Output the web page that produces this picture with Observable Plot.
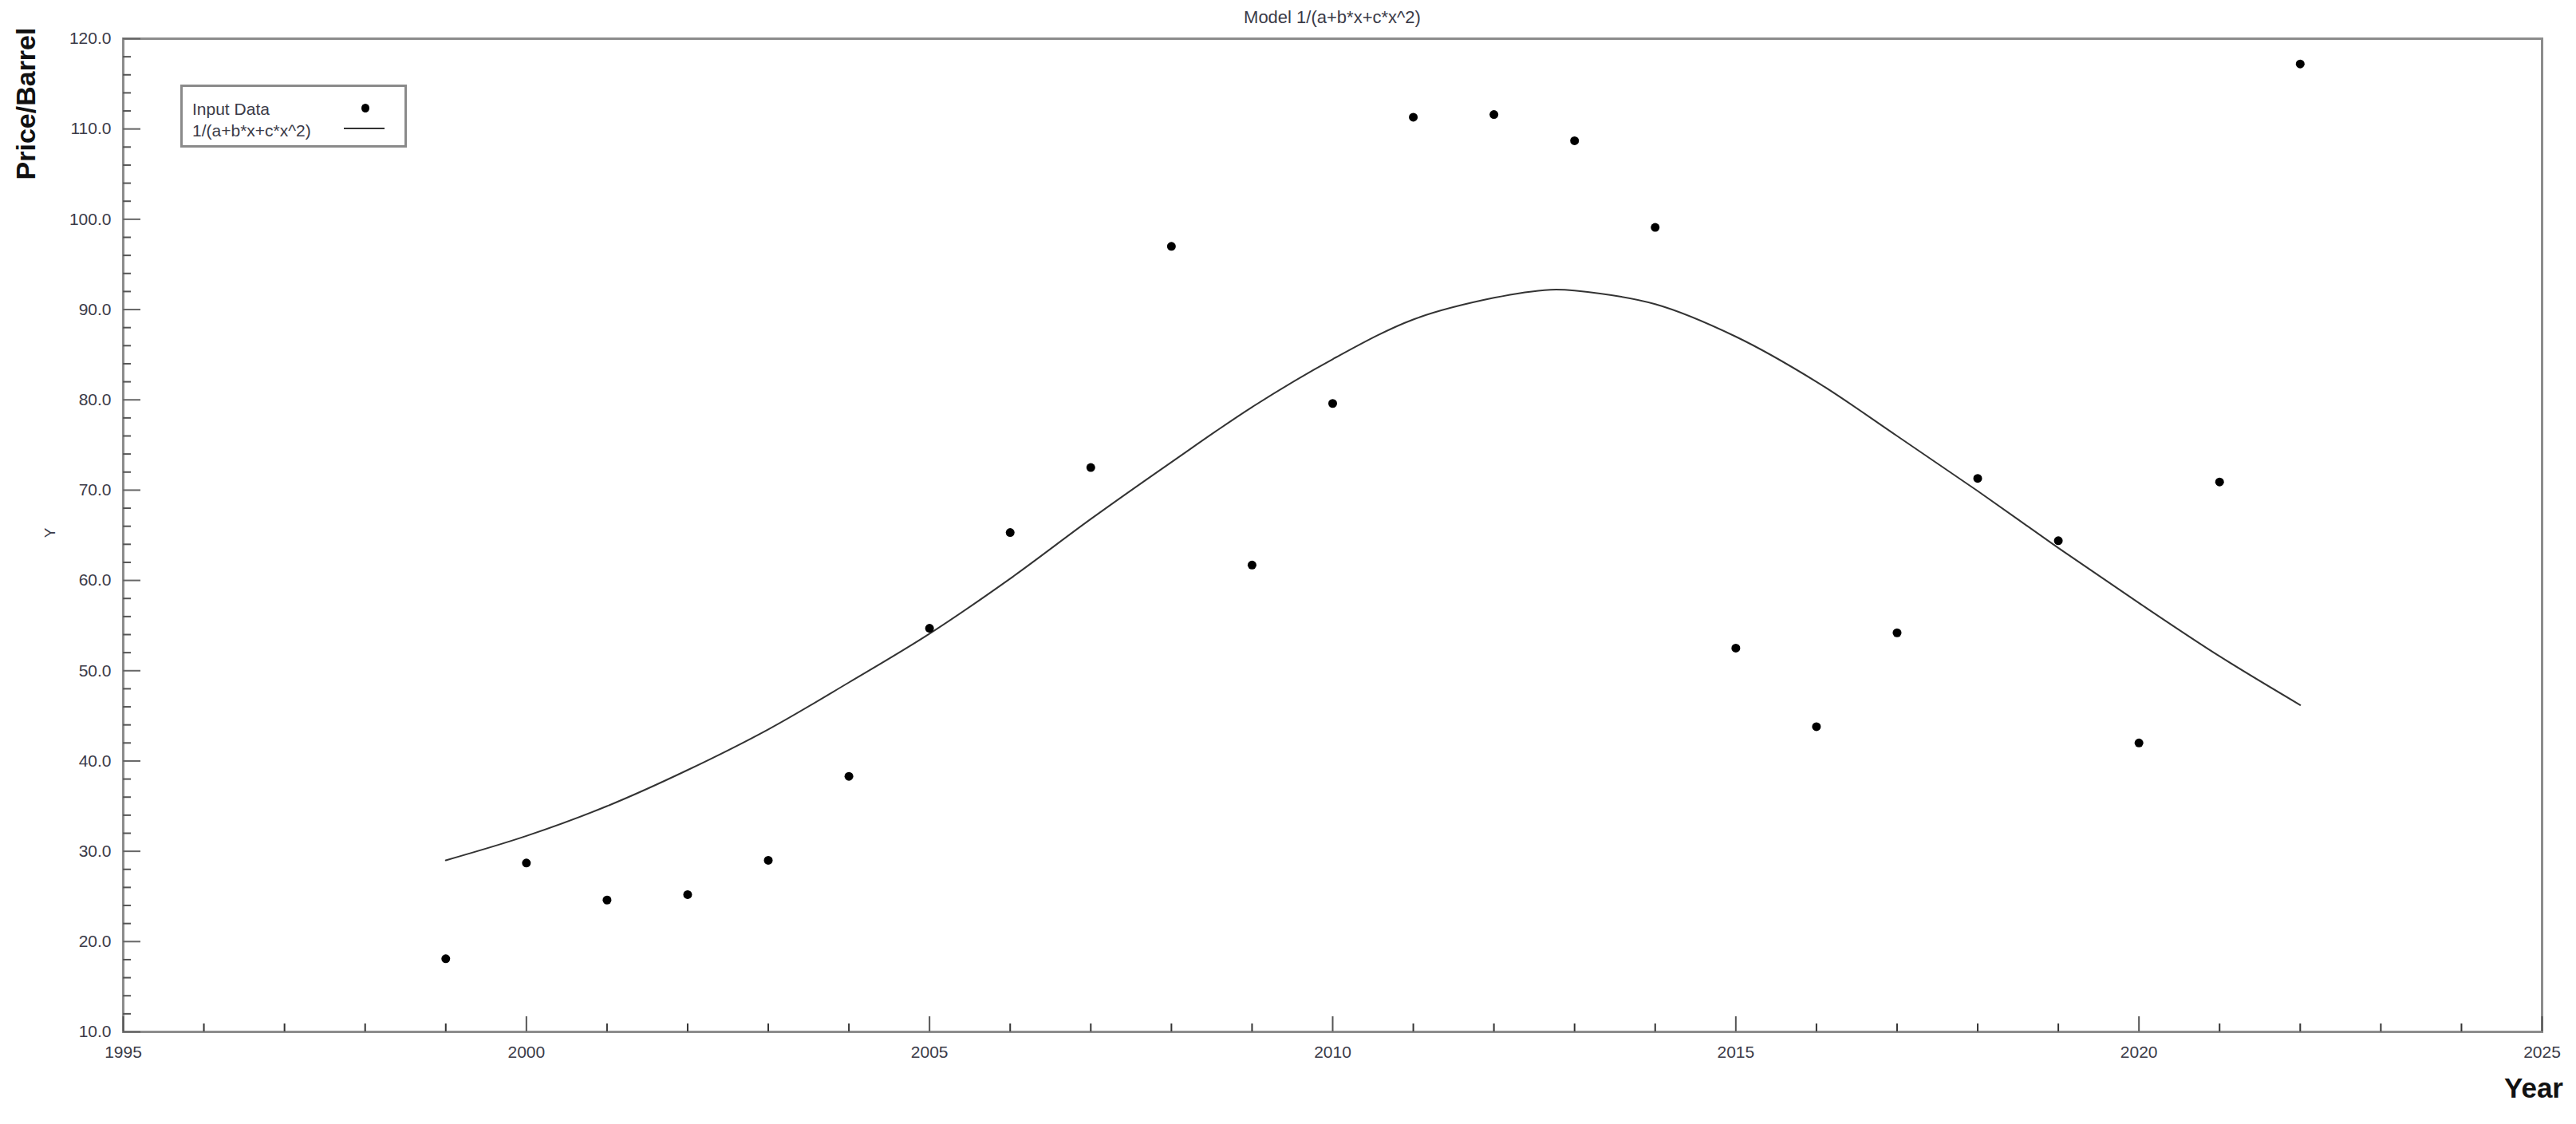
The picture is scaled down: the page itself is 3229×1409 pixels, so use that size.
<!DOCTYPE html>
<html>
<head>
<meta charset="utf-8">
<script src="https://cdn.jsdelivr.net/npm/d3@7"></script>
<script src="https://cdn.jsdelivr.net/npm/@observablehq/plot@0.6"></script>
<style>
  body { margin: 0; background: #fff; }
  #wrap { position: relative; width: 3229px; height: 1409px; font-family: "Liberation Sans", Arial, sans-serif; color: #3b3b48; overflow: hidden; }
  .abs { position: absolute; white-space: nowrap; line-height: 1; }
  #title { left: 1670px; top: 11px; transform: translateX(-50%); font-size: 22px; }
  #ylab { left: 32px; top: 130px; transform: translate(-50%, -50%) rotate(-90deg); font-size: 34px; font-weight: bold; color: #111; }
  #ysmall { left: 62px; top: 668px; transform: translate(-50%, -50%) rotate(-90deg); font-size: 19px; }
  #xlab { left: 3176px; top: 1363px; transform: translate(-50%, -50%); font-size: 35px; font-weight: bold; color: #111; }
  #legend { left: 226px; top: 106px; width: 284px; height: 79px; box-sizing: border-box; border: 3px solid #8a8a8a; background: #fff; }
  .lt { position: absolute; left: 12px; font-size: 21px; line-height: 1; }
  #ldot { position: absolute; left: 224px; top: 21px; width: 10px; height: 11px; border-radius: 50%; background: #000; }
  #lline { position: absolute; left: 202px; top: 51px; width: 51px; height: 2px; background: #333; }
</style>
</head>
<body>
<div id="wrap">
  <div id="title" class="abs">Model 1/(a+b*x+c*x^2)</div>
  <div id="ylab" class="abs">Price/Barrel</div>
  <div id="ysmall" class="abs">Y</div>
  <div id="xlab" class="abs">Year</div>
  <div id="legend" class="abs">
    <div class="lt" style="top:17px">Input Data</div>
    <div id="ldot"></div>
    <div class="lt" style="top:44px">1/(a+b*x+c*x^2)</div>
    <div id="lline"></div>
  </div>
</div>
<script>
// ---- data ----
const years = [1999, 2000, 2001, 2002, 2003, 2004, 2005, 2006, 2007, 2008, 2009, 2010,
               2011, 2012, 2013, 2014, 2015, 2016, 2017, 2018, 2019, 2020, 2021, 2022];
const prices = [18.1, 28.7, 24.6, 25.2, 29.0, 38.3, 54.7, 65.3, 72.5, 97.0, 61.7, 79.6,
                111.3, 111.6, 108.7, 99.1, 52.5, 43.8, 54.2, 71.3, 64.4, 42.0, 70.9, 117.2];
const fitYears = [1999, 2000, 2001, 2002, 2003, 2004, 2005, 2006, 2007, 2008, 2009, 2010,
                  2011, 2012, 2012.7, 2013, 2014, 2015, 2016, 2017, 2018, 2019, 2020, 2021, 2022];
const fitValues = [29.0, 31.7, 35.0, 39.0, 43.5, 48.7, 54.1, 60.2, 66.8, 73.1, 79.2, 84.5,
                   88.9, 91.3, 92.2, 92.1, 90.6, 87.0, 82.0, 76.0, 69.9, 63.6, 57.5, 51.6, 46.2];
const yTickValues = [10, 20, 30, 40, 50, 60, 70, 80, 90, 100, 110, 120];
const xTickValues = [1995, 2000, 2005, 2010, 2015, 2020, 2025];
const yMinor = d3.range(12, 120, 2).filter(v => v % 10 !== 0);
const xMinor = d3.range(1996, 2025, 1).filter(v => v % 5 !== 0);

const W = 3229, H = 1409, mL = 154, mR = 43, mT = 48, mB = 116;
const fw = W - mL - mR, fh = H - mT - mB;

const points = years.map((year, i) => ({year, price: prices[i]}));
const fit = fitYears.map((year, i) => ({year, value: fitValues[i]}));

const chart = Plot.plot({
  width: W, height: H,
  marginLeft: mL, marginRight: mR, marginTop: mT, marginBottom: mB,
  x: {domain: [1995, 2025], label: null},
  y: {domain: [10, 120], label: null},
  style: {background: "transparent", fontFamily: "Liberation Sans, Arial, sans-serif", color: "#3b3b48"},
  marks: [
    Plot.frame({stroke: "#8c8c8c", strokeWidth: 3}),
    Plot.tickY(yMinor, {y: d => d, insetRight: fw - 10, stroke: "#555", strokeWidth: 2}),
    Plot.tickY(yTickValues, {y: d => d, insetRight: fw - 22, stroke: "#666", strokeWidth: 2}),
    Plot.tickX(xMinor, {x: d => d, insetTop: fh - 10, stroke: "#333", strokeWidth: 2}),
    Plot.tickX(xTickValues, {x: d => d, insetTop: fh - 19, stroke: "#555", strokeWidth: 2}),
    Plot.axisY(yTickValues, {tickSize: 0, tickPadding: 15, tickFormat: d3.format(".1f"), fontSize: 21, label: null}),
    Plot.axisX(xTickValues, {tickSize: 0, tickPadding: 18, tickFormat: d => String(d), fontSize: 21, label: null}),
    Plot.line(fit, {x: "year", y: "value", curve: "catmull-rom", stroke: "#333", strokeWidth: 2}),
    Plot.dot(points, {x: "year", y: "price", r: 5.5, fill: "#000", stroke: "none"})
  ]
});
chart.style.position = "absolute";
chart.style.left = "0px";
chart.style.top = "0px";
const wrap = document.getElementById("wrap");
wrap.insertBefore(chart, wrap.firstChild);
</script>
</body>
</html>
